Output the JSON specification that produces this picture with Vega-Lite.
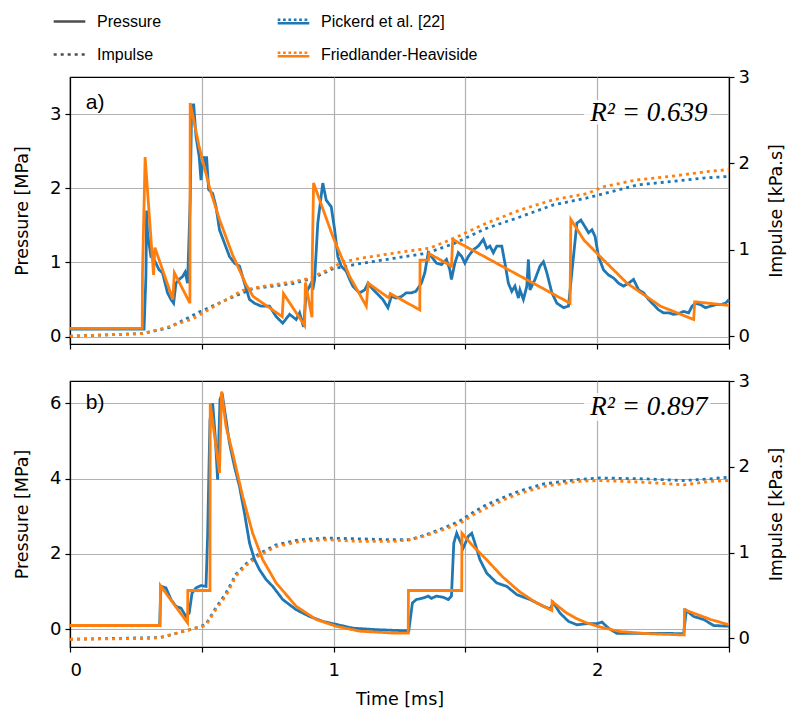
{
  "$schema": "https://vega.github.io/schema/vega-lite/v6.json",
  "padding": {"left": 12, "top": 4, "right": 2, "bottom": 2},
  "config": {
    "font": "DejaVu Sans",
    "view": {"stroke": "black", "strokeWidth": 1.2},
    "axis": {"labelFont": "DejaVu Sans", "labelFontSize": 18, "labelColor": "black", "titleFont": "DejaVu Sans", "titleFontSize": 17.5, "titleFontWeight": "normal", "titleColor": "black", "tickColor": "black", "tickSize": 5, "tickWidth": 1.2, "domainColor": "black", "domainWidth": 1.2, "gridColor": "#b0b0b0", "gridWidth": 1.2, "labelPadding": 4},
    "legend": {"labelFont": "Liberation Sans", "labelFontSize": 16, "labelColor": "black", "symbolSize": 1000, "symbolStrokeWidth": 2.5, "symbolStrokeColor": "#4d4d4d", "labelOffset": 10, "rowPadding": 7, "padding": 0},
    "concat": {"spacing": 20}
  },
  "datasets": {
    "aPP": [{"t":0,"v":0.1},{"t":0.281,"v":0.1},{"t":0.288,"v":0.81},{"t":0.291,"v":1.7},{"t":0.294,"v":1.4},{"t":0.307,"v":1.08},{"t":0.319,"v":1.04},{"t":0.338,"v":0.9},{"t":0.351,"v":0.86},{"t":0.37,"v":0.59},{"t":0.383,"v":0.5},{"t":0.393,"v":0.45},{"t":0.402,"v":0.72},{"t":0.414,"v":0.77},{"t":0.427,"v":0.81},{"t":0.437,"v":0.87},{"t":0.446,"v":0.72},{"t":0.456,"v":1.84},{"t":0.461,"v":3.01},{"t":0.469,"v":3.14},{"t":0.478,"v":2.7},{"t":0.49,"v":2.43},{"t":0.497,"v":2.11},{"t":0.506,"v":2.43},{"t":0.513,"v":2.29},{"t":0.518,"v":2.43},{"t":0.526,"v":1.98},{"t":0.541,"v":1.93},{"t":0.554,"v":1.75},{"t":0.567,"v":1.44},{"t":0.586,"v":1.26},{"t":0.605,"v":1.08},{"t":0.624,"v":0.99},{"t":0.643,"v":0.95},{"t":0.662,"v":0.72},{"t":0.681,"v":0.5},{"t":0.7,"v":0.45},{"t":0.725,"v":0.41},{"t":0.757,"v":0.41},{"t":0.782,"v":0.27},{"t":0.807,"v":0.18},{"t":0.833,"v":0.3},{"t":0.858,"v":0.23},{"t":0.871,"v":0.32},{"t":0.886,"v":0.13},{"t":0.896,"v":0.59},{"t":0.915,"v":0.72},{"t":0.921,"v":0.63},{"t":0.928,"v":0.77},{"t":0.94,"v":1.53},{"t":0.959,"v":2.07},{"t":0.972,"v":1.84},{"t":0.991,"v":1.75},{"t":1.004,"v":1.44},{"t":1.016,"v":1.08},{"t":1.029,"v":0.95},{"t":1.048,"v":0.88},{"t":1.061,"v":0.77},{"t":1.073,"v":0.68},{"t":1.086,"v":0.63},{"t":1.099,"v":0.59},{"t":1.118,"v":0.63},{"t":1.131,"v":0.72},{"t":1.143,"v":0.66},{"t":1.162,"v":0.59},{"t":1.187,"v":0.5},{"t":1.206,"v":0.39},{"t":1.219,"v":0.54},{"t":1.238,"v":0.52},{"t":1.257,"v":0.54},{"t":1.276,"v":0.59},{"t":1.295,"v":0.59},{"t":1.312,"v":0.61},{"t":1.333,"v":0.72},{"t":1.346,"v":0.86},{"t":1.359,"v":1.13},{"t":1.371,"v":1.08},{"t":1.39,"v":0.99},{"t":1.409,"v":0.97},{"t":1.428,"v":1.04},{"t":1.441,"v":0.9},{"t":1.447,"v":0.77},{"t":1.46,"v":0.99},{"t":1.473,"v":1.13},{"t":1.486,"v":1.08},{"t":1.498,"v":0.99},{"t":1.511,"v":1.08},{"t":1.53,"v":1.17},{"t":1.549,"v":1.22},{"t":1.568,"v":1.31},{"t":1.581,"v":1.19},{"t":1.593,"v":1.22},{"t":1.606,"v":1.13},{"t":1.619,"v":1.22},{"t":1.638,"v":1.22},{"t":1.65,"v":0.99},{"t":1.663,"v":0.72},{"t":1.676,"v":0.61},{"t":1.688,"v":0.68},{"t":1.701,"v":0.52},{"t":1.707,"v":0.63},{"t":1.72,"v":0.5},{"t":1.733,"v":0.68},{"t":1.739,"v":1.04},{"t":1.745,"v":0.63},{"t":1.764,"v":0.77},{"t":1.783,"v":0.95},{"t":1.796,"v":1.01},{"t":1.809,"v":0.86},{"t":1.828,"v":0.59},{"t":1.847,"v":0.45},{"t":1.872,"v":0.39},{"t":1.891,"v":0.41},{"t":1.91,"v":1.08},{"t":1.923,"v":1.53},{"t":1.938,"v":1.57},{"t":1.954,"v":1.48},{"t":1.967,"v":1.4},{"t":1.98,"v":1.44},{"t":1.992,"v":1.35},{"t":2.005,"v":1.08},{"t":2.024,"v":0.9},{"t":2.043,"v":0.83},{"t":2.062,"v":0.79},{"t":2.081,"v":0.72},{"t":2.1,"v":0.68},{"t":2.119,"v":0.72},{"t":2.138,"v":0.77},{"t":2.157,"v":0.63},{"t":2.176,"v":0.59},{"t":2.195,"v":0.5},{"t":2.214,"v":0.43},{"t":2.233,"v":0.36},{"t":2.252,"v":0.32},{"t":2.271,"v":0.32},{"t":2.29,"v":0.3},{"t":2.309,"v":0.31},{"t":2.328,"v":0.34},{"t":2.347,"v":0.32},{"t":2.36,"v":0.41},{"t":2.373,"v":0.45},{"t":2.392,"v":0.43},{"t":2.411,"v":0.39},{"t":2.43,"v":0.41},{"t":2.449,"v":0.43},{"t":2.468,"v":0.43},{"t":2.487,"v":0.45},{"t":2.5,"v":0.5}],
    "aFP": [{"t":0,"v":0.11},{"t":0.274,"v":0.11},{"t":0.275,"v":0.85},{"t":0.285,"v":2.42},{"t":0.317,"v":0.83},{"t":0.322,"v":1.2},{"t":0.39,"v":0.5},{"t":0.396,"v":0.86},{"t":0.455,"v":0.45},{"t":0.456,"v":3.15},{"t":0.49,"v":2.56},{"t":0.53,"v":2.0},{"t":0.567,"v":1.58},{"t":0.617,"v":1.1},{"t":0.668,"v":0.7},{"t":0.695,"v":0.54},{"t":0.805,"v":0.27},{"t":0.81,"v":0.58},{"t":0.89,"v":0.15},{"t":0.893,"v":0.73},{"t":0.918,"v":0.26},{"t":0.919,"v":1.01},{"t":0.924,"v":2.07},{"t":0.997,"v":1.35},{"t":1.061,"v":0.81},{"t":1.124,"v":0.41},{"t":1.131,"v":0.72},{"t":1.21,"v":0.52},{"t":1.215,"v":0.58},{"t":1.327,"v":0.36},{"t":1.328,"v":1.03},{"t":1.36,"v":1.03},{"t":1.362,"v":1.12},{"t":1.447,"v":0.95},{"t":1.452,"v":1.31},{"t":1.897,"v":0.45},{"t":1.9,"v":1.58},{"t":1.95,"v":1.3},{"t":2.011,"v":1.08},{"t":2.113,"v":0.72},{"t":2.24,"v":0.41},{"t":2.366,"v":0.23},{"t":2.37,"v":0.47},{"t":2.5,"v":0.42}],
    "aPI": [{"t":0,"v":0},{"t":0.275,"v":0.03},{"t":0.376,"v":0.1},{"t":0.49,"v":0.28},{"t":0.592,"v":0.42},{"t":0.693,"v":0.55},{"t":0.845,"v":0.61},{"t":0.92,"v":0.67},{"t":0.997,"v":0.78},{"t":1.099,"v":0.84},{"t":1.225,"v":0.9},{"t":1.352,"v":0.96},{"t":1.454,"v":1.07},{"t":1.581,"v":1.25},{"t":1.707,"v":1.38},{"t":1.834,"v":1.52},{"t":1.961,"v":1.6},{"t":2.024,"v":1.65},{"t":2.151,"v":1.75},{"t":2.278,"v":1.79},{"t":2.404,"v":1.83},{"t":2.5,"v":1.85}],
    "aFI": [{"t":0,"v":0},{"t":0.275,"v":0.03},{"t":0.376,"v":0.11},{"t":0.465,"v":0.2},{"t":0.567,"v":0.38},{"t":0.655,"v":0.53},{"t":0.719,"v":0.57},{"t":0.845,"v":0.63},{"t":0.909,"v":0.67},{"t":0.972,"v":0.76},{"t":1.035,"v":0.86},{"t":1.099,"v":0.9},{"t":1.225,"v":0.96},{"t":1.365,"v":1.02},{"t":1.454,"v":1.13},{"t":1.581,"v":1.31},{"t":1.707,"v":1.46},{"t":1.834,"v":1.58},{"t":1.961,"v":1.65},{"t":2.024,"v":1.73},{"t":2.151,"v":1.81},{"t":2.278,"v":1.85},{"t":2.404,"v":1.9},{"t":2.5,"v":1.93}],
    "bPP": [{"t":0,"v":0.1},{"t":0.34,"v":0.1},{"t":0.345,"v":1.14},{"t":0.364,"v":1.1},{"t":0.383,"v":0.79},{"t":0.402,"v":0.61},{"t":0.421,"v":0.56},{"t":0.44,"v":0.34},{"t":0.452,"v":0.43},{"t":0.463,"v":0.96},{"t":0.478,"v":1.1},{"t":0.497,"v":1.16},{"t":0.516,"v":1.14},{"t":0.522,"v":2.47},{"t":0.531,"v":5.56},{"t":0.541,"v":6.0},{"t":0.551,"v":5.12},{"t":0.56,"v":3.97},{"t":0.569,"v":6.09},{"t":0.577,"v":6.27},{"t":0.592,"v":5.56},{"t":0.605,"v":4.94},{"t":0.624,"v":4.32},{"t":0.643,"v":3.79},{"t":0.662,"v":3.08},{"t":0.681,"v":2.29},{"t":0.7,"v":1.85},{"t":0.719,"v":1.58},{"t":0.744,"v":1.32},{"t":0.769,"v":1.14},{"t":0.807,"v":0.79},{"t":0.858,"v":0.52},{"t":0.909,"v":0.34},{"t":0.959,"v":0.21},{"t":1.073,"v":0.03},{"t":1.162,"v":-0.01},{"t":1.277,"v":-0.04},{"t":1.285,"v":-0.05},{"t":1.299,"v":0.7},{"t":1.314,"v":0.79},{"t":1.34,"v":0.83},{"t":1.359,"v":0.88},{"t":1.371,"v":0.82},{"t":1.39,"v":0.88},{"t":1.416,"v":0.85},{"t":1.435,"v":0.79},{"t":1.447,"v":0.88},{"t":1.456,"v":2.29},{"t":1.467,"v":2.55},{"t":1.477,"v":2.38},{"t":1.492,"v":2.16},{"t":1.511,"v":2.47},{"t":1.524,"v":2.55},{"t":1.536,"v":2.29},{"t":1.555,"v":1.85},{"t":1.581,"v":1.49},{"t":1.619,"v":1.23},{"t":1.657,"v":1.14},{"t":1.695,"v":0.92},{"t":1.745,"v":0.79},{"t":1.771,"v":0.7},{"t":1.796,"v":0.61},{"t":1.821,"v":0.54},{"t":1.834,"v":0.7},{"t":1.859,"v":0.43},{"t":1.891,"v":0.21},{"t":1.923,"v":0.12},{"t":1.961,"v":0.15},{"t":1.999,"v":0.15},{"t":2.018,"v":0.19},{"t":2.043,"v":0.03},{"t":2.075,"v":-0.11},{"t":2.176,"v":-0.11},{"t":2.278,"v":-0.11},{"t":2.328,"v":-0.12},{"t":2.338,"v":0.5},{"t":2.366,"v":0.34},{"t":2.404,"v":0.26},{"t":2.442,"v":0.1},{"t":2.5,"v":0.08}],
    "bFP": [{"t":0,"v":0.1},{"t":0.342,"v":0.1},{"t":0.343,"v":1.16},{"t":0.446,"v":0.17},{"t":0.447,"v":1.03},{"t":0.531,"v":1.03},{"t":0.532,"v":6.0},{"t":0.567,"v":4.15},{"t":0.575,"v":6.31},{"t":0.592,"v":5.38},{"t":0.617,"v":4.68},{"t":0.655,"v":3.53},{"t":0.693,"v":2.55},{"t":0.731,"v":1.85},{"t":0.782,"v":1.23},{"t":0.858,"v":0.61},{"t":0.934,"v":0.26},{"t":1.01,"v":0.08},{"t":1.099,"v":-0.05},{"t":1.225,"v":-0.1},{"t":1.283,"v":-0.1},{"t":1.284,"v":1.03},{"t":1.486,"v":1.03},{"t":1.487,"v":2.55},{"t":1.53,"v":2.2},{"t":1.58,"v":1.85},{"t":1.64,"v":1.4},{"t":1.705,"v":1.0},{"t":1.765,"v":0.72},{"t":1.828,"v":0.5},{"t":1.829,"v":0.74},{"t":1.88,"v":0.45},{"t":1.923,"v":0.28},{"t":1.96,"v":0.17},{"t":2.011,"v":0.06},{"t":2.087,"v":-0.06},{"t":2.202,"v":-0.12},{"t":2.33,"v":-0.15},{"t":2.331,"v":0.52},{"t":2.43,"v":0.26},{"t":2.5,"v":0.12}],
    "bPI": [{"t":0,"v":-0.01},{"t":0.342,"v":0.01},{"t":0.465,"v":0.11},{"t":0.515,"v":0.16},{"t":0.554,"v":0.36},{"t":0.592,"v":0.53},{"t":0.63,"v":0.75},{"t":0.668,"v":0.87},{"t":0.719,"v":0.99},{"t":0.782,"v":1.09},{"t":0.871,"v":1.15},{"t":0.972,"v":1.17},{"t":1.099,"v":1.16},{"t":1.225,"v":1.15},{"t":1.29,"v":1.15},{"t":1.352,"v":1.21},{"t":1.428,"v":1.3},{"t":1.479,"v":1.37},{"t":1.53,"v":1.47},{"t":1.581,"v":1.56},{"t":1.657,"v":1.66},{"t":1.707,"v":1.72},{"t":1.796,"v":1.8},{"t":1.923,"v":1.85},{"t":2.011,"v":1.87},{"t":2.176,"v":1.86},{"t":2.328,"v":1.84},{"t":2.43,"v":1.86},{"t":2.5,"v":1.88}],
    "bFI": [{"t":0,"v":-0.01},{"t":0.3,"v":0.0},{"t":0.342,"v":0.01},{"t":0.465,"v":0.11},{"t":0.515,"v":0.15},{"t":0.554,"v":0.34},{"t":0.592,"v":0.5},{"t":0.63,"v":0.73},{"t":0.668,"v":0.85},{"t":0.719,"v":0.97},{"t":0.782,"v":1.07},{"t":0.871,"v":1.13},{"t":0.972,"v":1.15},{"t":1.099,"v":1.13},{"t":1.225,"v":1.13},{"t":1.29,"v":1.15},{"t":1.352,"v":1.2},{"t":1.428,"v":1.28},{"t":1.479,"v":1.34},{"t":1.53,"v":1.44},{"t":1.581,"v":1.52},{"t":1.657,"v":1.63},{"t":1.707,"v":1.69},{"t":1.796,"v":1.77},{"t":1.923,"v":1.83},{"t":2.011,"v":1.84},{"t":2.176,"v":1.82},{"t":2.328,"v":1.79},{"t":2.43,"v":1.83},{"t":2.5,"v":1.84}],
    "aNote": [{"t":2.418,"v":3.02,"label":"R² = 0.639","kind":"r2"},{"t":0.06,"v":3.15,"label":"a)","kind":"panel"}],
    "aBox": [{"t":1.95,"t2":2.43,"v":3.19,"v2":2.86}],
    "bNote": [{"t":2.418,"v":5.9,"label":"R² = 0.897","kind":"r2"},{"t":0.06,"v":6.0,"label":"b)","kind":"panel"}],
    "bBox": [{"t":1.95,"t2":2.43,"v":6.27,"v2":5.53}]
  },
  "vconcat": [
    {
      "width": 659, "height": 267,
      "encoding": {
        "x": {"field": "t", "type": "quantitative", "scale": {"domain": [0, 2.5], "nice": false, "zero": false},
              "axis": {"values": [0, 0.5, 1, 1.5, 2, 2.5], "labels": false, "title": null, "grid": true}}
      },
      "layer": [
        {
          "encoding": {"y": {"field": "v", "type": "quantitative", "scale": {"domain": [-0.09, 3.0], "nice": false, "zero": false},
                             "axis": {"orient": "right", "values": [0, 1, 2, 3], "format": "d", "grid": false, "title": "Impulse [kPa.s]", "titleAngle": 270, "titleBaseline": "top", "titlePadding": 18}}},
          "layer": [
            {"data": {"name": "aPI"}, "mark": {"type": "line", "strokeWidth": 2.8, "color": "#4d4d4d"},
             "encoding": {
               "stroke": {"datum": "Pickerd et al. [22]", "scale": {"domain": ["Pickerd et al. [22]", "Friedlander-Heaviside"], "range": ["#1f77b4", "#ff7f0e"]},
                         "legend": {"title": null, "orient": "none", "legendX": 206, "legendY": -73, "symbolType": "M-1,-0.11H-0.83M-0.66,-0.11H-0.49M-0.32,-0.11H-0.15M0.02,-0.11H0.19M0.36,-0.11H0.53M0.7,-0.11H0.87M-1,0.11H1"}},
               "strokeDash": {"datum": "Impulse", "scale": {"domain": ["Pressure", "Impulse"], "range": [[1, 0], [3, 4]]},
                              "legend": {"title": null, "orient": "none", "legendX": -18, "legendY": -73, "symbolType": "stroke", "symbolStrokeColor": "#4d4d4d"}}
             }},
            {"data": {"name": "aFI"}, "mark": {"type": "line", "strokeWidth": 2.8, "color": "#4d4d4d"},
             "encoding": {"stroke": {"datum": "Friedlander-Heaviside"}, "strokeDash": {"datum": "Impulse"}}}
          ]
        },
        {
          "encoding": {"y": {"field": "v", "type": "quantitative", "scale": {"domain": [-0.1, 3.5], "nice": false, "zero": false},
                             "axis": {"orient": "left", "values": [0, 1, 2, 3], "format": "d", "grid": true, "title": "Pressure [MPa]", "titlePadding": 18}}},
          "layer": [
            {"data": {"name": "aPP"}, "mark": {"type": "line", "strokeWidth": 2.8, "color": "#4d4d4d"},
             "encoding": {"stroke": {"datum": "Pickerd et al. [22]"}, "strokeDash": {"datum": "Pressure"}}},
            {"data": {"name": "aFP"}, "mark": {"type": "line", "strokeWidth": 2.8, "color": "#4d4d4d"},
             "encoding": {"stroke": {"datum": "Friedlander-Heaviside"}, "strokeDash": {"datum": "Pressure"}}},
            {"data": {"name": "aBox"}, "mark": {"type": "rect", "fill": "white", "opacity": 0.85},
             "encoding": {"x2": {"field": "t2"}, "y2": {"field": "v2"}}},
            {"data": {"name": "aNote"}, "transform": [{"filter": "datum.kind == 'r2'"}],
             "mark": {"type": "text", "font": "Liberation Serif", "fontStyle": "italic", "fontSize": 27, "align": "right", "baseline": "middle", "color": "black"},
             "encoding": {"text": {"field": "label"}}},
            {"data": {"name": "aNote"}, "transform": [{"filter": "datum.kind == 'panel'"}],
             "mark": {"type": "text", "font": "Liberation Sans", "fontSize": 21, "align": "left", "baseline": "middle", "color": "black"},
             "encoding": {"text": {"field": "label"}}}
          ]
        }
      ],
      "resolve": {"scale": {"y": "independent"}}
    },
    {
      "width": 659, "height": 266,
      "encoding": {
        "x": {"field": "t", "type": "quantitative", "scale": {"domain": [0, 2.5], "nice": false, "zero": false},
              "axis": {"values": [0, 0.5, 1, 1.5, 2, 2.5], "labelExpr": "datum.value % 1 == 0 ? format(datum.value, 'd') : ''", "title": "Time [ms]", "grid": true, "labelPadding": 9, "titlePadding": 11}}
      },
      "layer": [
        {
          "encoding": {"y": {"field": "v", "type": "quantitative", "scale": {"domain": [-0.1, 3.0], "nice": false, "zero": false},
                             "axis": {"orient": "right", "values": [0, 1, 2, 3], "format": "d", "grid": false, "title": "Impulse [kPa.s]", "titleAngle": 270, "titleBaseline": "top", "titlePadding": 18}}},
          "layer": [
            {"data": {"name": "bPI"}, "mark": {"type": "line", "strokeWidth": 2.8, "color": "#4d4d4d"},
             "encoding": {"stroke": {"datum": "Pickerd et al. [22]"}, "strokeDash": {"datum": "Impulse"}}},
            {"data": {"name": "bFI"}, "mark": {"type": "line", "strokeWidth": 2.8, "color": "#4d4d4d"},
             "encoding": {"stroke": {"datum": "Friedlander-Heaviside"}, "strokeDash": {"datum": "Impulse"}}}
          ]
        },
        {
          "encoding": {"y": {"field": "v", "type": "quantitative", "scale": {"domain": [-0.47, 6.59], "nice": false, "zero": false},
                             "axis": {"orient": "left", "values": [0, 2, 4, 6], "format": "d", "grid": true, "title": "Pressure [MPa]", "titlePadding": 18}}},
          "layer": [
            {"data": {"name": "bPP"}, "mark": {"type": "line", "strokeWidth": 2.8, "color": "#4d4d4d"},
             "encoding": {"stroke": {"datum": "Pickerd et al. [22]"}, "strokeDash": {"datum": "Pressure"}}},
            {"data": {"name": "bFP"}, "mark": {"type": "line", "strokeWidth": 2.8, "color": "#4d4d4d"},
             "encoding": {"stroke": {"datum": "Friedlander-Heaviside"}, "strokeDash": {"datum": "Pressure"}}},
            {"data": {"name": "bBox"}, "mark": {"type": "rect", "fill": "white", "opacity": 0.85},
             "encoding": {"x2": {"field": "t2"}, "y2": {"field": "v2"}}},
            {"data": {"name": "bNote"}, "transform": [{"filter": "datum.kind == 'r2'"}],
             "mark": {"type": "text", "font": "Liberation Serif", "fontStyle": "italic", "fontSize": 27, "align": "right", "baseline": "middle", "color": "black"},
             "encoding": {"text": {"field": "label"}}},
            {"data": {"name": "bNote"}, "transform": [{"filter": "datum.kind == 'panel'"}],
             "mark": {"type": "text", "font": "Liberation Sans", "fontSize": 21, "align": "left", "baseline": "middle", "color": "black"},
             "encoding": {"text": {"field": "label"}}}
          ]
        }
      ],
      "resolve": {"scale": {"y": "independent"}}
    }
  ]
}
